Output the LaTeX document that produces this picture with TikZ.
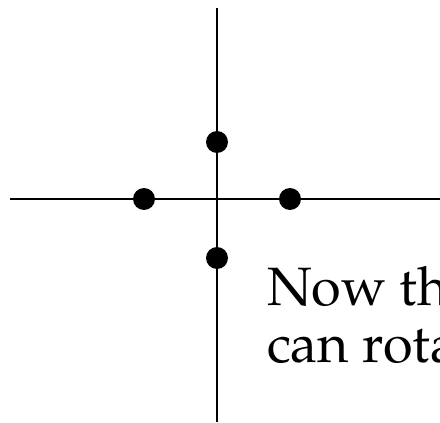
\documentclass[tikz,border=0pt]{standalone}
\usepackage[T1]{fontenc}
\usepackage{mathpazo}
\begin{document}
\begin{tikzpicture}[x=1pt, y=-1pt, line width=2pt]
  \useasboundingbox (0,0) rectangle (440,423);
  \clip (0,0) rectangle (440,423);
  \coordinate (left) at (10,199);
  \coordinate (right) at (440,199);
  \coordinate (top) at (217,8);
  \coordinate (bottom) at (217,422);
  \draw (left) -- (right);
  \draw (top) -- (bottom);
  \fill (217,142) circle (11) coordinate (N);
  \fill (144,199) circle (11) coordinate (W);
  \fill (290,199) circle (11) coordinate (E);
  \fill (217,258) circle (11) coordinate (S);
  \node[anchor=base west, inner sep=0pt, font=\fontsize{54}{57}\selectfont] (line1) at (266,305) {Now th};
  \node[anchor=base west, inner sep=0pt, font=\fontsize{54}{57}\selectfont] (line2) at (266,362) {can rota};
\end{tikzpicture}
\end{document}
